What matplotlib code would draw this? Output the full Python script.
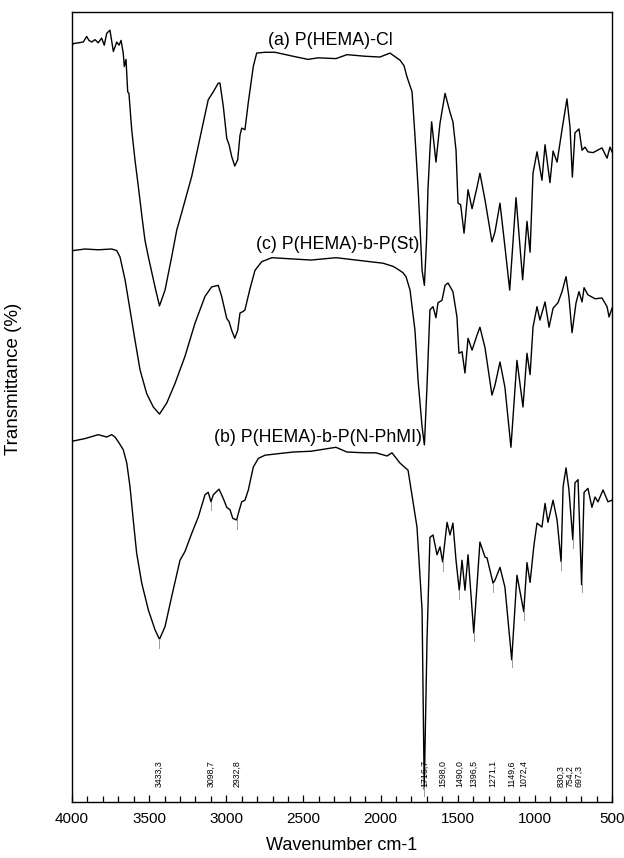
import matplotlib
matplotlib.use("Agg")
import matplotlib.pyplot as plt
from matplotlib.ticker import MultipleLocator
import numpy as np

plt.rcParams['font.family'] = ['Liberation Sans', 'DejaVu Sans']

# FTIR spectra (wavenumber in cm-1, transmittance in stacked % units)
wn_a = [4000, 3992, 3959, 3927, 3905, 3890, 3872, 3851, 3830, 3808, 3791, 3775, 3754,
        3732, 3710, 3695, 3682, 3668, 3661, 3650, 3639, 3631, 3613, 3592, 3570, 3544,
        3527, 3505, 3462, 3433, 3397, 3354, 3321, 3289, 3224, 3159, 3117, 3084, 3052,
        3041, 3019, 2997, 2982, 2965, 2945, 2926, 2911, 2900, 2879, 2857, 2825, 2803,
        2749, 2684, 2568, 2470, 2406, 2289, 2218, 2101, 2004, 1939, 1874, 1848, 1829,
        1796, 1777, 1757, 1744, 1731, 1716, 1702, 1693, 1680, 1669, 1641, 1615, 1582,
        1550, 1531, 1511, 1498, 1481, 1459, 1433, 1407, 1375, 1356, 1323, 1278, 1258,
        1226, 1194, 1163, 1122, 1079, 1051, 1031, 1012, 986, 954, 934, 902, 882, 856,
        824, 792, 772, 757, 740, 714, 694, 675, 656, 623, 565, 532, 513, 500]
t_a = [95.7, 96.0, 96.1, 96.2, 96.9, 96.4, 96.2, 96.5, 96.1, 96.7, 95.8, 97.3, 97.7,
       95.0, 96.2, 95.8, 96.4, 94.8, 93.1, 94.0, 89.9, 89.7, 85.1, 81.3, 77.9, 73.7,
       71.1, 69.0, 65.2, 62.8, 64.8, 69.0, 72.4, 74.6, 79.2, 85.1, 88.9, 89.9, 91.0,
       91.0, 88.0, 84.0, 83.2, 81.7, 80.5, 81.3, 84.4, 85.3, 85.1, 88.6, 93.1, 94.8,
       94.9, 94.9, 94.4, 94.0, 94.2, 94.1, 94.6, 94.4, 94.3, 94.8, 93.9, 93.2, 91.8,
       89.9, 84.3, 77.8, 72.7, 67.3, 65.4, 71.1, 77.5, 82.5, 86.1, 81.0, 85.9, 89.7,
       87.3, 86.1, 82.5, 75.8, 75.6, 72.0, 77.5, 75.1, 77.8, 79.6, 76.2, 70.9, 72.2,
       75.8, 70.3, 64.8, 76.5, 66.1, 73.5, 69.6, 79.6, 82.3, 78.7, 83.2, 78.4, 82.4, 81.0,
       85.1, 89.0, 85.4, 79.1, 84.7, 85.2, 82.5, 82.9, 82.3, 82.2, 82.8, 81.5, 82.9, 82.3]

wn_c = [4000, 3992, 3916, 3830, 3743, 3710, 3689, 3656, 3624, 3592, 3559, 3516, 3473,
        3433, 3386, 3332, 3268, 3203, 3138, 3095, 3052, 3030, 2997, 2982, 2965, 2945,
        2926, 2911, 2890, 2879, 2846, 2814, 2770, 2704, 2451, 2289, 1984, 1919, 1893,
        1855, 1835, 1809, 1777, 1757, 1731, 1716, 1700, 1680, 1660, 1641, 1628, 1602,
        1582, 1563, 1531, 1505, 1492, 1472, 1453, 1433, 1407, 1375, 1356, 1323, 1278,
        1258, 1226, 1194, 1155, 1116, 1077, 1051, 1031, 1012, 986, 967, 934, 908, 882,
        850, 824, 798, 779, 759, 733, 714, 694, 681, 656, 610, 565, 532, 519, 500]
t_c = [69.8, 69.8, 70.0, 69.9, 70.0, 69.8, 69.0, 66.1, 62.3, 58.5, 54.7, 51.7, 50.0,
       49.1, 50.5, 53.0, 56.4, 60.6, 64.0, 65.2, 65.4, 64.0, 61.2, 60.8, 59.7, 58.7,
       59.7, 61.9, 62.1, 62.3, 65.0, 67.3, 68.4, 68.9, 68.6, 68.9, 68.2, 67.8, 67.5,
       67.0, 66.5, 64.8, 59.7, 53.4, 47.5, 45.2, 52.2, 62.3, 62.7, 61.3, 63.2, 63.5,
       65.4, 65.7, 64.6, 61.4, 56.8, 57.0, 54.3, 58.7, 57.2, 59.1, 60.1, 57.5, 51.5,
       52.8, 55.7, 52.5, 44.9, 55.9, 50.0, 56.8, 54.1, 60.1, 62.7, 61.0, 63.3, 60.1, 62.5,
       63.2, 64.6, 66.5, 63.9, 59.4, 63.2, 64.6, 63.3, 65.1, 64.2, 63.7, 63.8, 62.7, 61.4, 62.5]

wn_b = [4000, 3992, 3916, 3830, 3775, 3743, 3721, 3700, 3668, 3645, 3624, 3603, 3581,
        3548, 3505, 3462, 3433, 3397, 3354, 3300, 3268, 3224, 3181, 3138, 3117, 3099,
        3084, 3047, 3019, 2997, 2976, 2958, 2933, 2915, 2900, 2879, 2857, 2825, 2792,
        2749, 2568, 2451, 2289, 2218, 2101, 2030, 1958, 1926, 1874, 1822, 1809, 1764,
        1731, 1717, 1699, 1680, 1660, 1634, 1615, 1598, 1569, 1550, 1531, 1511, 1490,
        1472, 1453, 1433, 1396, 1356, 1323, 1310, 1271, 1258, 1226, 1194, 1150, 1116,
        1072, 1051, 1031, 1006, 986, 954, 934, 915, 882, 856, 830, 817, 798, 779, 754,
        740, 720, 697, 681, 656, 630, 610, 591, 558, 526, 500]
t_b = [45.6, 45.7, 46.0, 46.5, 46.2, 46.5, 46.2, 45.6, 44.6, 42.9, 39.9, 35.7, 31.5,
       27.7, 24.3, 21.8, 20.6, 22.2, 26.0, 30.6, 31.7, 34.0, 36.1, 38.9, 39.2, 38.0,
       38.9, 39.6, 38.4, 37.3, 37.0, 35.9, 35.7, 37.0, 38.0, 38.2, 39.5, 42.4, 43.5,
       43.9, 44.3, 44.4, 44.9, 44.3, 44.2, 44.2, 43.8, 44.2, 42.9, 42.0, 40.4, 34.8,
       24.3, 1.6, 20.5, 33.5, 33.8, 31.3, 32.3, 30.4, 35.4, 33.8, 35.3, 30.6, 26.8,
       30.6, 26.8, 31.3, 21.4, 32.9, 31.0, 30.9, 27.7, 28.1, 29.7, 27.2, 18.0, 28.7,
       24.1, 30.3, 27.8, 32.5, 35.3, 34.8, 37.8, 35.4, 38.2, 35.7, 30.4, 39.9, 42.3, 39.5, 33.2,
       40.4, 40.8, 27.5, 39.2, 39.7, 37.3, 38.6, 38.0, 39.5, 38.0, 38.2]

series_names = ["(a) P(HEMA)-Cl", "(c) P(HEMA)-b-P(St)", "(b) P(HEMA)-b-P(N-PhMI)"]

peak_wn = [3433.3, 3098.7, 2932.8, 1716.7, 1598.0, 1490.0, 1396.5, 1271.1,
           1149.6, 1072.4, 830.3, 754.2, 697.3]
peak_text = ["3433,3", "3098,7", "2932,8", "1716,7", "1598,0", "1490,0", "1396,5",
             "1271,1", "1149,6", "1072,4", "830,3", "754,2", "697,3"]
peak_nudge_pt = [0, 0, 0, 0, 0, 0, 0, 0, 0, 0, 0, -2.2, -1.8]

fig = plt.figure(figsize=(6.24, 8.58), dpi=100)
ax = fig.add_axes([72 / 624, 56 / 858, 540 / 624, 790 / 858])

for wn, t in [(wn_a, t_a), (wn_c, t_c), (wn_b, t_b)]:
    ax.plot(wn, t, color='black', lw=1.0, solid_joinstyle='round')

# peak markers below the N-PhMI spectrum
wb = np.array(wn_b)[::-1]
tb = np.array(t_b)[::-1]
for w in peak_wn:
    y0 = np.interp(w, wb, tb)
    ax.plot([w, w], [y0, y0 - 1.1], color='#9a9a9a', lw=0.7)

for w, s, dx in zip(peak_wn, peak_text, peak_nudge_pt):
    ax.annotate(s, xy=(w, 1.9), xytext=(dx, 0), textcoords='offset points',
                rotation=90, ha='center', va='bottom', fontsize=6.3)

ax.text(1919, 96.4, series_names[0], ha='right', va='center', fontsize=12.8)
ax.text(1751, 70.6, series_names[1], ha='right', va='center', fontsize=12.8)
ax.text(1731, 46.2, series_names[2], ha='right', va='center', fontsize=12.8)

ax.set_xlim(4000, 500)
ax.set_ylim(0, 100)
ax.xaxis.set_major_locator(MultipleLocator(500))
ax.xaxis.set_minor_locator(MultipleLocator(100))
ax.tick_params(axis='x', which='major', direction='in', length=5, width=0.9,
               labelsize=11, pad=7)
ax.tick_params(axis='x', which='minor', direction='in', length=4, width=0.9)
ax.set_yticks([])
for sp in ax.spines.values():
    sp.set_linewidth(1.0)

ax.set_xlabel("Wavenumber cm-1", fontsize=13, labelpad=8)
ax.set_ylabel("Transmittance (%)", fontsize=13.5)
ax.yaxis.set_label_coords(-0.093, 0.535)

fig.savefig("out.png", dpi=100)
